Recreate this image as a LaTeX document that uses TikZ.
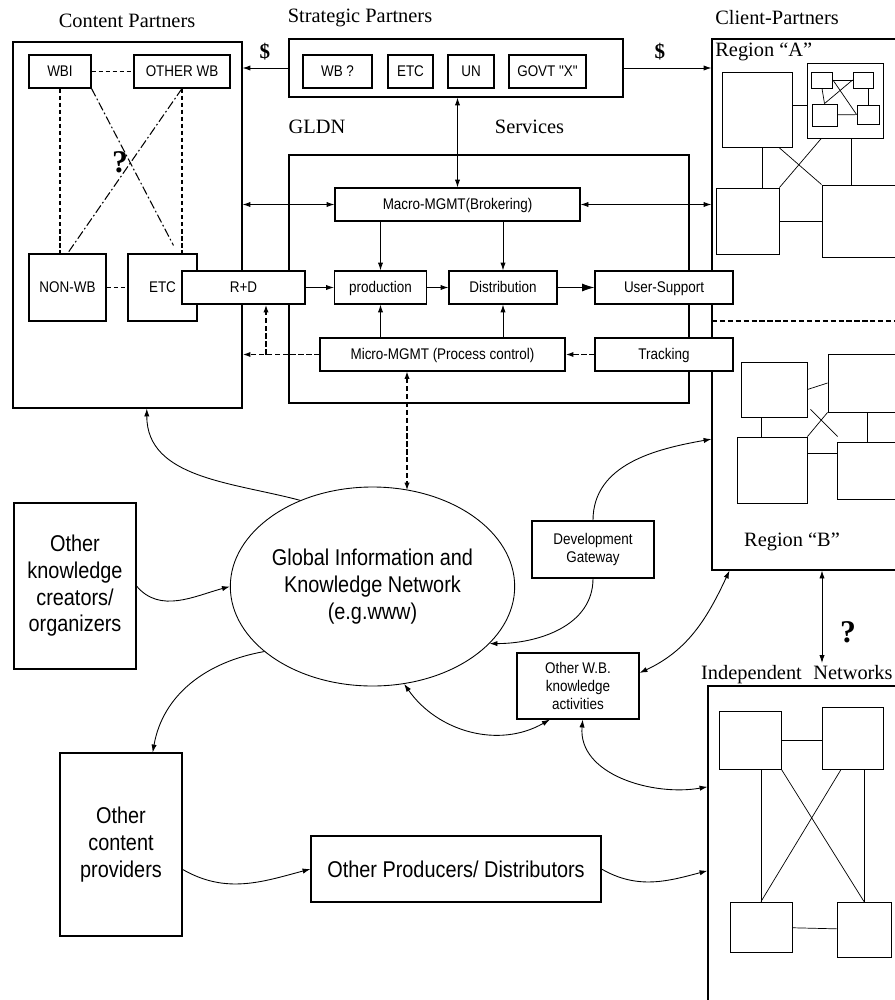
\documentclass[tikz,border=0pt]{standalone}
\usepackage{fontspec}
\setmainfont{Liberation Serif}
\newfontfamily\arialn[FakeStretch=0.87]{Liberation Sans}
\usetikzlibrary{arrows.meta,shapes.geometric,calc}

\begin{document}
\begin{tikzpicture}[x=0.2mm,y=-0.2mm,
  box/.style={draw,line width=0.6pt,fill=white,inner sep=0pt,align=center,font=\arialn\fontsize{8.8}{10.2}\selectfont},
  sl/.style={text height=6.4pt,text depth=1pt},
  sz/.style 2 args={minimum width=#1*0.2mm,minimum height=#2*0.2mm},
  big/.style={font=\arialn\fontsize{13}{15.2}\selectfont},
  cell/.style={draw,line width=0.5pt,inner sep=0pt},
  lbl/.style={inner sep=0pt,font=\fontsize{11.6}{13}\selectfont},
  bigq/.style={inner sep=0pt,font=\bfseries\fontsize{18}{18}\selectfont},
  money/.style={inner sep=0pt,font=\bfseries\fontsize{12}{12}\selectfont},
  arr/.style={line width=0.5pt,-{Latex[length=4.5pt,width=3pt]}},
  darr/.style={line width=0.5pt,{Latex[length=4.5pt,width=3pt]}-{Latex[length=4.5pt,width=3pt]}},
  dsh/.style={line width=0.9pt,dash pattern=on 3pt off 1.5pt},
  cdsh/.style={line width=0.6pt,dash pattern=on 2.5pt off 1.5pt},
  dd/.style={line width=0.6pt,dash pattern=on 5pt off 1.5pt on 1pt off 1.5pt}]
\useasboundingbox (0,0) rectangle (895,1000);
\clip (0,0) rectangle (895,1000);

\node[lbl] (cplbl) at (127,21) {Content Partners};
\node[lbl] (splbl) at (360,18) {Strategic Partners};
\node[lbl] (clbl) at (777,18) {Client-Partners};
\node[lbl] (gldnlbl) at (317,127) {GLDN};
\node[lbl] (svclbl) at (529.5,127) {Services};

\node[box,sz={229}{366}] (content) at (127.5,225) {};
\node[box,sl,sz={62}{33}] (wbi) at (60,71.5) {WBI};
\node[box,sl,sz={96}{33}] (otherwb) at (182,71.5) {OTHER WB};
\node[box,sl,sz={77}{67}] (nonwb) at (67.5,287.5) {NON-WB};
\node[box,sl,sz={69}{67}] (etc) at (162.5,287.5) {ETC};
\draw[cdsh] (wbi) -- (otherwb);
\draw[cdsh] (nonwb) -- (etc);
\draw[cdsh] (wbi.south) -- (wbi.south |- nonwb.north);
\draw[cdsh] (otherwb.south) -- (otherwb.south |- etc.north);
\draw[dd] (wbi.south east) -- ([shift={(11,-8)}]etc.north);
\draw[dd] (otherwb.south) -- (nonwb.north);
\node[bigq] (q1) at (120,162) {?};

\node[box,sz={334}{58}] (strat) at (456,68) {};
\node[box,sl,sz={69}{33}] (wbq) at (337.5,71.5) {WB ?};
\node[box,sl,sz={45}{33}] (etcs) at (410.5,71.5) {ETC};
\node[box,sl,sz={46}{33}] (un) at (471,71.5) {UN};
\node[box,sl,sz={77}{33}] (govt) at (547.5,71.5) {GOVT "X"};
\node[money] (d1) at (265,52) {\$};
\node[money] (d2) at (660,52) {\$};

\node[box,sz={250}{531},fill=none] (client) at (837,304.5) {};
\node[lbl,anchor=west] (rega) at (715,52) {Region “A”};
\node[lbl] (regb) at (792,542) {Region “B”};
\draw[dsh] (712,321) -- (895,321);
\draw[arr] (strat.west) -- (strat.west -| content.east);
\draw[arr] (strat.east) -- (strat.east -| client.west);

\node[box,sz={400}{248},fill=none] (gldn) at (489,279) {};
\node[box,sl,sz={245}{33}] (macro) at (457.5,204.5) {Macro-MGMT(Brokering)};
\node[box,sl,sz={123}{33}] (rd) at (243.5,287.5) {R+D};
\node[box,sl,sz={92}{33}] (prod) at (380.5,287.5) {production};
\node[box,sl,sz={108}{33}] (dist) at (503,287.5) {Distribution};
\node[box,sl,sz={138}{33}] (usup) at (664,287.5) {User-Support};
\node[box,sl,sz={245}{33}] (micro) at (442.5,354.5) {Micro-MGMT (Process control)};
\node[box,sl,sz={138}{33}] (track) at (664,354.5) {Tracking};

\draw[darr] (macro.north |- strat.south) -- (macro.north);
\draw[darr] (macro.west) -- (macro.west -| content.east);
\draw[darr] (macro.east) -- (macro.east -| client.west);
\draw[arr] (macro.south -| prod.north) -- (prod.north);
\draw[arr] (macro.south -| dist.north) -- (dist.north);
\draw[arr] (micro.north -| prod.south) -- (prod.south);
\draw[arr] (micro.north -| dist.south) -- (dist.south);
\draw[arr] (rd.east) -- (prod.west);
\draw[arr] (prod.east) -- (dist.west);
\draw[line width=0.5pt,-{Latex[length=7pt,width=4.5pt]}] (dist.east) -- (usup.west);
\draw[arr,dsh] (track.west) -- (micro.east);
\draw[arr,dsh] (micro.west) -- (micro.west -| content.east);
\coordinate (brk) at (266,354.5);
\draw[arr,dsh] (brk) -- (brk |- rd.south);

\node[cell,sz={70}{75}] (a1) at (757,109.5) {};
\node[cell,sz={76}{75}] (anet) at (845,100.5) {};
\node[cell,sz={21}{16}] (n1) at (822,80) {};
\node[cell,sz={20}{16}] (n2) at (863,80) {};
\node[cell,sz={25}{22}] (n3) at (824.5,115) {};
\node[cell,sz={22}{19}] (n4) at (868,114.5) {};
\draw (n1) -- (n2);
\draw (n1.south) -- (n3.north);
\draw (n4.north |- n2.south) -- (n4.north);
\draw (n3) -- (n4);
\draw (n1.east) -- (n4.west);
\draw (n2.west) -- (n3.north);
\node[cell,sz={63}{66}] (a2) at (747.5,221) {};
\node[cell,sz={138}{72}] (a3) at (891,221) {};
\draw (a1.7) -- (a1.7 -| anet.west);
\draw (a1.-82) -- (a1.-82 |- a2.north);
\draw (a1.300) -- (a3.north west);
\draw (anet.238) -- (a2.north east);
\draw (anet.280) -- (anet.280 |- a3.north);
\draw (a2) -- (a3);

\node[cell,sz={66}{55}] (b1) at (774,389.5) {};
\node[cell,sz={132}{58}] (b2) at (894,383) {};
\node[cell,sz={70}{66}] (b3) at (772,470) {};
\node[cell,sz={124}{57}] (b4) at (899,470.5) {};
\draw (b1.east) -- (b2.west);
\draw (b1.246) -- (b1.246 |- b3.north);
\draw (b2.228) -- (b2.228 |- b4.north);
\draw (b3.25) -- (b3.25 -| b4.west);
\draw (b2.south west) -- (b3.north east);
\draw ([shift={(3,-8)}]b1.south east) -- ([shift={(1,-5)}]b4.north west);

\node[lbl,anchor=base] (indlbl) at (751.5,679) {Independent};
\node[lbl,anchor=base west] (netlbl) at (813,679) {Networks};
\node[box,sz={252}{414},fill=none] (indep) at (834,893) {};
\node[cell,sz={62}{58}] (i1) at (750,740) {};
\node[cell,sz={61}{62}] (i2) at (852.5,738) {};
\node[cell,sz={62}{50}] (i3) at (761,927) {};
\node[cell,sz={54}{55}] (i4) at (864,929.5) {};
\draw (i1.east) -- (i1.east -| i2.west);
\draw (i3.north |- i1.south) -- (i3.north);
\draw (i4.north |- i2.south) -- (i4.north);
\draw (i1.south east) -- (i4.north);
\draw (i2.250) -- (i3.north);
\draw (i3) -- (i4);
\coordinate (qnet) at (822,663);
\draw[darr] (qnet |- client.south) -- (qnet);
\node[bigq] (q2) at (848,632) {?};

\node[box,big,sz={122}{166}] (creators) at (75,586) {Other\\knowledge\\creators/\\organizers};
\node[draw,ellipse,line width=0.5pt,inner sep=0pt,align=center,big,minimum width=229*0.2mm,minimum height=199*0.2mm] (gikn) at (372.5,586.5) {Global Information and\\Knowledge Network\\(e.g.www)};
\node[box,sz={122}{57}] (devgw) at (593,549.5) {Development\\Gateway};
\node[box,sz={122}{66}] (owb) at (578,686) {Other W.B.\\knowledge\\activities};
\node[box,big,sz={122}{183}] (providers) at (121,844.5) {Other\\content\\providers};
\node[box,big,sz={290}{66}] (producers) at (456,869) {Other Producers/ Distributors};

\coordinate (mg) at (407,371);
\draw[darr,dsh] (mg) -- ($(mg |- gikn.north)+(0,4)$);
\draw[arr] (gikn.130) to[out=165,in=-90] (content.-84);
\draw[arr] (creators.east) to[out=-50,in=195] (gikn.west);
\draw[arr] (devgw.north) to[out=90,in=190] (client.227);
\draw[arr] (devgw.south) to[out=-90,in=0] (gikn.-26);
\draw[darr] (owb.12) to[out=25,in=-115] (client.248);
\draw[darr] (gikn.-72) to[out=-55,in=210] (owb.230);
\draw[darr] (owb.-82) to[out=-95,in=190] (indep.140);
\draw[arr] (gikn.211) to[out=190,in=80] (providers.71);
\draw[arr] (providers.-22) to[out=-30,in=195] (producers.west);
\draw[arr] (producers.east) to[out=-30,in=195] (indep.170);
\end{tikzpicture}
\end{document}
